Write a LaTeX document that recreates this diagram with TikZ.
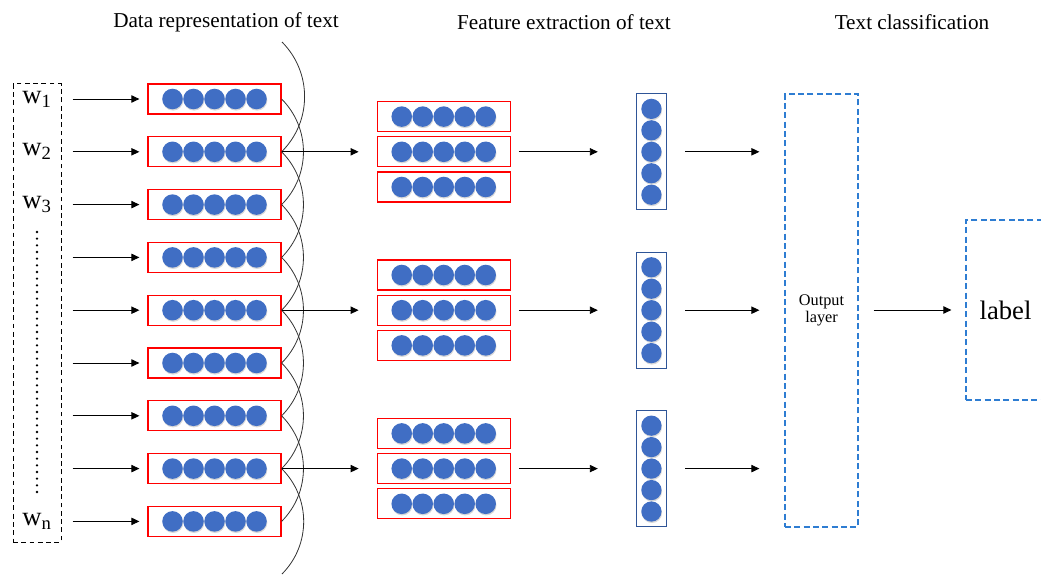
\documentclass[tikz,border=0pt]{standalone}
\usepackage{fontspec}
\setmainfont{Liberation Serif}
\usetikzlibrary{arrows.meta,positioning,shadows}
\definecolor{ballblue}{RGB}{64,110,196}
\definecolor{boxblue}{RGB}{47,85,151}
\definecolor{dashblue}{RGB}{46,125,210}
\tikzset{
rowbox/.style={draw=red,line width=.9pt,minimum width=99.75pt,minimum height=22.5pt,inner sep=0pt},
colbox/.style={draw=boxblue,line width=.9pt,minimum width=22.5pt,minimum height=87pt,inner sep=0pt},
ball/.style={fill=ballblue,drop shadow={shadow xshift=.4pt,shadow yshift=-1pt,opacity=.3}},
dashbox/.style={draw=dashblue,line width=.9pt,dash pattern=on 4.5pt off 2.5pt,inner sep=0pt,align=center},
wordbox/.style={draw,line width=.75pt,dash pattern=on 3.6pt off 2.6pt,minimum width=36pt,minimum height=343.5pt},
wlab/.style={font=\fontsize{20}{24}\selectfont,inner sep=0pt},
title/.style={font=\fontsize{15.9}{19}\selectfont},
arrow/.style={-{Triangle[length=6pt,width=5.5pt]},line width=.7pt},
linkcurve/.style={draw=black!80,line width=.6pt},
dotline/.style={line width=1.9pt,line cap=round,dash pattern=on 0pt off 5pt}
}
\begin{document}
\begin{tikzpicture}[x=0.75pt,y=-0.75pt]
\useasboundingbox (0,0) rectangle (1041,577);

% headings
\node[title] (t1) at (226,22) {Data representation of text};
\node[title] (t2) at (564,22) {Feature extraction of text};
\node[title] (t3) at (912,22) {Text classification};

% words and their vectors
\node[wordbox] (words) at (37,313) {};
\foreach \i in {1,...,9}{
  \node[rowbox] (r\i) at (214.5,{99+52.8*(\i-1)}) {};
  \foreach \k in {-2,...,2} \fill[ball] ([xshift=\k*15.75pt]r\i.center) circle (7.7pt);
  \draw[arrow,shorten <=8.25pt,shorten >=6pt] (words.east |- r\i.west) -- (r\i.west);
  \coordinate (e\i) at (r\i.east);
}
\node[wlab] (w1) at (words.center |- r1) {w\textsubscript{1}};
\node[wlab] (w2) at (words.center |- r2) {w\textsubscript{2}};
\node[wlab] (w3) at (words.center |- r3) {w\textsubscript{3}};
\node[wlab] (wn) at (words.center |- r9) {w\textsubscript{n}};
\coordinate (dtop) at (37,232);
\coordinate (dbot) at (37,497);
\draw[dotline] (dtop) -- (dbot);

% windows over neighbouring words
\coordinate (e0) at (282,42);
\coordinate (e10) at (282,574);
\foreach \i [evaluate=\i as \j using int(\i+2)] in {0,...,8}
  \draw[linkcurve] (e\i) to[bend left=45] (e\j);

% feature extraction
\foreach \g/\i in {1/2,2/5,3/8}{
  \node[rowbox,right=71.25pt of r\i] (fb\g) {};
  \node[rowbox,above=3pt of fb\g] (fa\g) {};
  \node[rowbox,below=3pt of fb\g] (fc\g) {};
  \foreach \n in {fa,fb,fc}
    \foreach \k in {-2,...,2} \fill[ball] ([xshift=\k*15.75pt]\n\g.center) circle (7.7pt);
  \node[colbox,right=93.75pt of fb\g] (v\g) {};
  \foreach \k in {-2,...,2} \fill[ball] ([yshift=\k*16.1pt]v\g.center) circle (7.6pt);
  \draw[arrow,shorten >=13.5pt] (r\i.east) -- (fb\g.west);
  \draw[arrow,shorten <=6pt,shorten >=28.5pt] (fb\g.east) -- (v\g.west);
}

% classification
\node[dashbox,minimum width=54.75pt,minimum height=324.75pt,font=\fontsize{12.2}{12.5}\selectfont] (outlayer) at (821.5,310.5) {Output\\layer};
\node[dashbox,minimum width=59.25pt,minimum height=135pt,font=\fontsize{20}{24}\selectfont] (lab) at (1005.5,310) {label};
\foreach \g in {1,2,3}
  \draw[arrow,shorten <=13.5pt,shorten >=18.75pt] (v\g.east) -- (outlayer.west |- v\g);
\draw[arrow,shorten <=11.25pt,shorten >=10.5pt] (outlayer.east |- lab) -- (lab.west);
\end{tikzpicture}
\end{document}
